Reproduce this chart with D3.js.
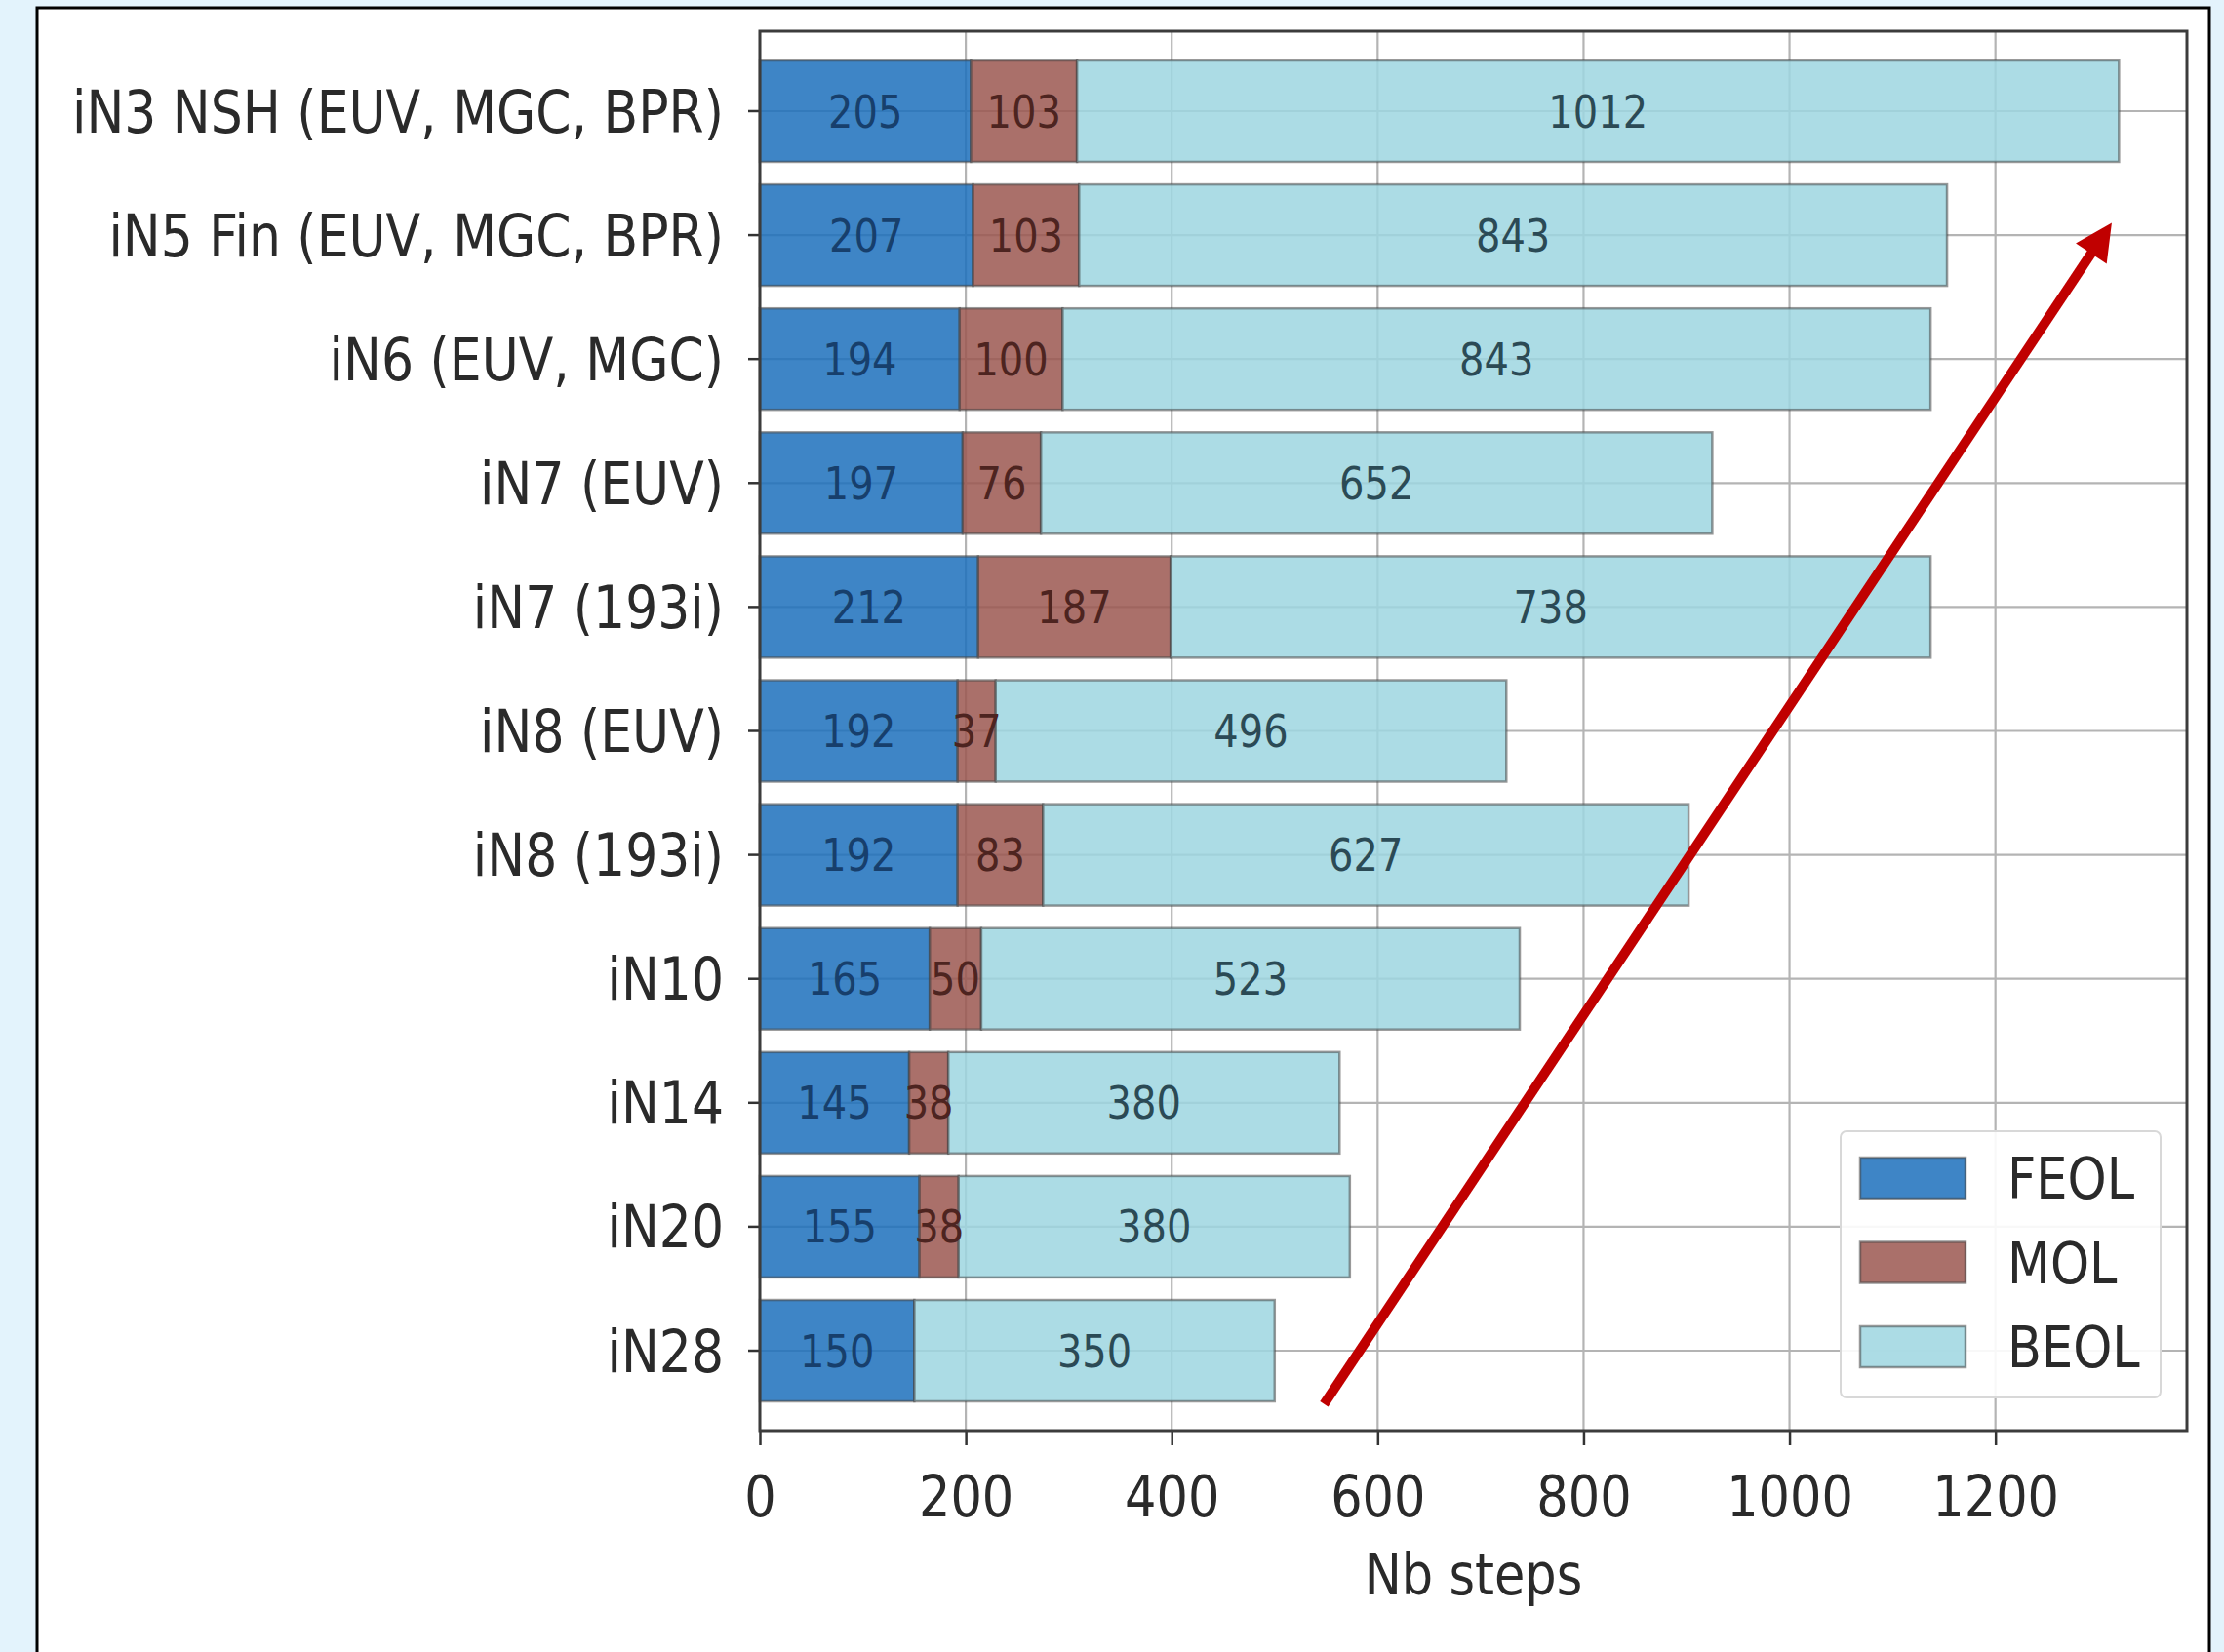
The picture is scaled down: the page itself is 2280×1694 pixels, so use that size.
<!DOCTYPE html>
<html>
<head>
<meta charset="utf-8">
<script src="https://cdn.jsdelivr.net/npm/d3@7"></script>
<style>
  html, body { margin: 0; padding: 0; background: #e3f3fc; }
  svg { display: block; }
  text { font-family: "DejaVu Sans", sans-serif; }
</style>
</head>
<body>
<svg id="chart" width="2280" height="1694"></svg>
<script>
// ---------------- data ----------------
const categories = [
  "iN3 NSH (EUV, MGC, BPR)",
  "iN5 Fin (EUV, MGC, BPR)",
  "iN6 (EUV, MGC)",
  "iN7 (EUV)",
  "iN7 (193i)",
  "iN8 (EUV)",
  "iN8 (193i)",
  "iN10",
  "iN14",
  "iN20",
  "iN28"
];
const feolValues = [205, 207, 194, 197, 212, 192, 192, 165, 145, 155, 150];
const molValues  = [103, 103, 100, 76, 187, 37, 83, 50, 38, 38, 0];
const beolValues = [1012, 843, 843, 652, 738, 496, 627, 523, 380, 380, 350];
const seriesNames = ["FEOL", "MOL", "BEOL"];
const xTickValues = [0, 200, 400, 600, 800, 1000, 1200];
const xAxisTitle = "Nb steps";
// annotation arrow (data units: x value, row position index)
const arrowStart = { value: 548, row: 10.43 };
const arrowEnd   = { value: 1313, row: 0.9 };

// ---------------- styles ----------------
const fills = { FEOL: "rgb(28,112,188)", MOL: "rgb(155,87,80)", BEOL: "rgb(157,214,225)" };
const labelColors = { FEOL: "#173f6c", MOL: "#4d2420", BEOL: "#2b4a55" };
const SY = 1.15; // vertical text stretch seen in the picture

const svg = d3.select("#chart");

// outer white panel with black border
svg.append("rect").attr("x", 38).attr("y", 8).attr("width", 2227).attr("height", 1720)
  .attr("fill", "#ffffff").attr("stroke", "#000").attr("stroke-width", 3);

const plot = { left: 779, right: 2242, top: 32, bottom: 1467 };

const x = d3.scaleLinear().domain([0, 1386]).range([plot.left, plot.right]);
const y = d3.scaleBand().domain(categories).range([plot.top, plot.bottom])
  .paddingInner(0.182).paddingOuter(0.236);

const rows = categories.map((c, i) => ({ cat: c, FEOL: feolValues[i], MOL: molValues[i], BEOL: beolValues[i] }));
const stacked = d3.stack().keys(seriesNames)(rows);

// grid
const grid = svg.append("g");
grid.selectAll("line.v").data(xTickValues).join("line")
  .attr("x1", d => x(d)).attr("x2", d => x(d))
  .attr("y1", plot.top).attr("y2", plot.bottom)
  .attr("stroke", "#b4b4b4").attr("stroke-width", 2.2);
grid.selectAll("line.h").data(categories).join("line")
  .attr("x1", plot.left).attr("x2", plot.right)
  .attr("y1", d => y(d) + y.bandwidth() / 2).attr("y2", d => y(d) + y.bandwidth() / 2)
  .attr("stroke", "#b4b4b4").attr("stroke-width", 2.2);

// bars
const barG = svg.append("g");
stacked.forEach(layer => {
  const key = layer.key;
  barG.append("g").selectAll("rect").data(layer.filter(d => d[1] - d[0] > 0)).join("rect")
    .attr("x", d => x(d[0]))
    .attr("y", d => y(d.data.cat))
    .attr("width", d => x(d[1]) - x(d[0]))
    .attr("height", y.bandwidth())
    .attr("fill", fills[key]).attr("fill-opacity", 0.85)
    .attr("stroke", "rgba(70,70,70,0.55)").attr("stroke-width", 2.5);
});

// bar labels
stacked.forEach(layer => {
  const key = layer.key;
  barG.append("g").selectAll("text").data(layer.filter(d => d[1] - d[0] > 0)).join("text")
    .attr("transform", d => `translate(${(x(d[0]) + x(d[1])) / 2},${y(d.data.cat) + y.bandwidth() / 2}) scale(1,${SY})`)
    .attr("text-anchor", "middle").attr("dy", "0.36em")
    .attr("font-size", 40).attr("fill", labelColors[key])
    .text(d => d[1] - d[0]);
});

// axes
const xAxis = svg.append("g").attr("transform", `translate(0,${plot.bottom})`)
  .call(d3.axisBottom(x).tickValues(xTickValues).tickSize(15).tickPadding(0).tickFormat(d3.format("d")));
xAxis.select(".domain").remove();
xAxis.selectAll(".tick line").attr("stroke", "#333").attr("stroke-width", 2.5);
xAxis.selectAll(".tick text").attr("font-size", 51).attr("fill", "#2a2a2a")
  .attr("y", 67 / SY).attr("dy", "0.36em").attr("transform", `scale(1,${SY})`);

const yAxis = svg.append("g").attr("transform", `translate(${plot.left},0)`)
  .call(d3.axisLeft(y).tickSize(12).tickPadding(25));
yAxis.select(".domain").remove();
yAxis.selectAll(".tick line").attr("stroke", "#333").attr("stroke-width", 2.5);
yAxis.selectAll(".tick text").attr("font-size", 52).attr("fill", "#2a2a2a")
  .attr("dy", "0.36em").attr("transform", `scale(1,${SY})`);

// spines
svg.append("rect").attr("x", plot.left).attr("y", plot.top)
  .attr("width", plot.right - plot.left).attr("height", plot.bottom - plot.top)
  .attr("fill", "none").attr("stroke", "#3c3c3c").attr("stroke-width", 3);

// x-axis title
svg.append("text")
  .attr("transform", `translate(${(plot.left + plot.right) / 2},${plot.bottom + 147}) scale(1,${SY})`)
  .attr("text-anchor", "middle").attr("dy", "0.36em")
  .attr("font-size", 51).attr("fill", "#2a2a2a").text(xAxisTitle);

// legend
const lg = { x: plot.right - 355, y: plot.bottom - 307, w: 328, h: 273 };
const legend = svg.append("g");
legend.append("rect").attr("x", lg.x).attr("y", lg.y).attr("width", lg.w).attr("height", lg.h)
  .attr("rx", 6).attr("fill", "rgba(255,255,255,0.9)").attr("stroke", "#d8d8d8").attr("stroke-width", 2);
seriesNames.forEach((s, i) => {
  const cy = lg.y + 48 + i * 86.5;
  legend.append("rect").attr("x", lg.x + 20).attr("y", cy - 21).attr("width", 108).attr("height", 42)
    .attr("fill", fills[s]).attr("fill-opacity", 0.85)
    .attr("stroke", "rgba(70,70,70,0.55)").attr("stroke-width", 2.5);
  legend.append("text")
    .attr("transform", `translate(${lg.x + 171},${cy}) scale(1,${SY})`)
    .attr("dy", "0.36em").attr("font-size", 51).attr("fill", "#2a2a2a").text(s);
});

// red arrow annotation
const rowY = r => y(categories[0]) + y.bandwidth() / 2 + r * y.step();
const p0 = [x(arrowStart.value), rowY(arrowStart.row)];
const p1 = [x(arrowEnd.value), rowY(arrowEnd.row)];
const dx = p1[0] - p0[0], dy = p1[1] - p0[1];
const L = Math.hypot(dx, dy), ux = dx / L, uy = dy / L;
const headLen = 38, headHalf = 19;
const base = [p1[0] - ux * headLen, p1[1] - uy * headLen];
svg.append("line")
  .attr("x1", p0[0]).attr("y1", p0[1])
  .attr("x2", base[0] + ux * 2).attr("y2", base[1] + uy * 2)
  .attr("stroke", "#c00000").attr("stroke-width", 10);
svg.append("polygon")
  .attr("points", [
    p1,
    [base[0] - uy * headHalf, base[1] + ux * headHalf],
    [base[0] + uy * headHalf, base[1] - ux * headHalf]
  ].map(p => p.join(",")).join(" "))
  .attr("fill", "#c00000");
</script>
</body>
</html>
